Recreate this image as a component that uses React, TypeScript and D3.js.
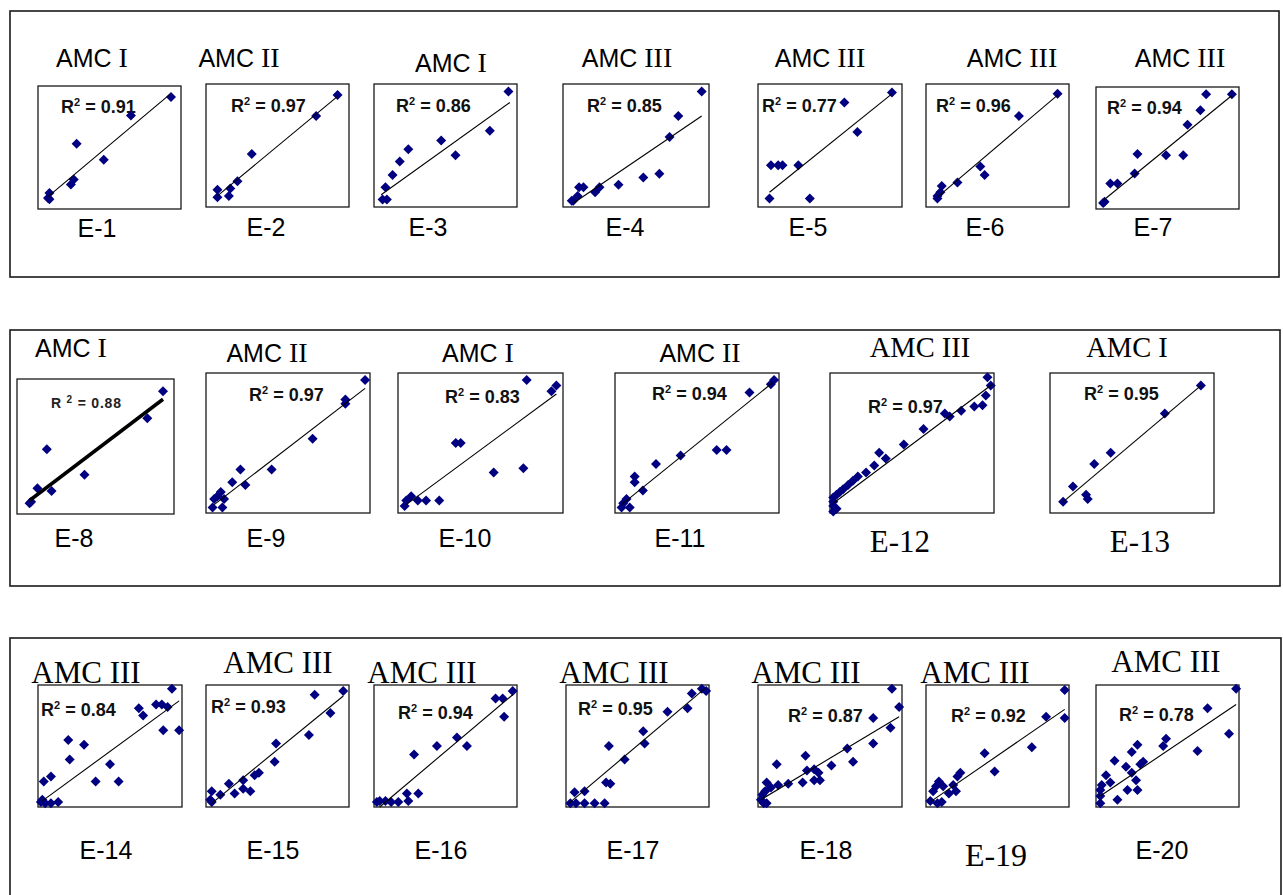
import * as d3 from "d3";

// event names, AMC class and fit quality
const eventNames = ["E-1", "E-2", "E-3", "E-4", "E-5", "E-6", "E-7", "E-8", "E-9", "E-10",
  "E-11", "E-12", "E-13", "E-14", "E-15", "E-16", "E-17", "E-18", "E-19", "E-20"];
const amcClass = ["I", "II", "I", "III", "III", "III", "III", "I", "II", "I",
  "II", "III", "I", "III", "III", "III", "III", "III", "III", "III"];
const r2Values = [0.91, 0.97, 0.86, 0.85, 0.77, 0.96, 0.94, 0.88, 0.97, 0.83,
  0.94, 0.97, 0.95, 0.84, 0.93, 0.94, 0.95, 0.87, 0.92, 0.78];

// observed vs computed runoff, scaled 0-100 per event
const e1 = [[93, 91], [65, 76], [27, 53], [46, 40], [25, 24], [23, 20], [8, 13], [8, 8], [7, 9]];
const e2 = [[92, 91], [77, 74], [32, 43], [22, 21], [17, 15], [8, 14], [16, 9], [8, 8]];
const e3 = [[94, 94], [81, 62], [47, 54], [57, 42], [24, 47], [18, 37], [13, 26], [8, 16], [6, 6], [9, 6]];
const e4 = [[95, 94], [79, 74], [73, 57], [66, 27], [55, 24], [38, 18], [25, 16], [22, 12], [14, 16], [11, 16], [10, 9], [7, 5], [6, 5]];
const e5 = [[93, 93], [60, 85], [69, 61], [28, 34], [17, 34], [14, 34], [9, 34], [8, 7], [36, 7]];
const e6 = [[92, 92], [65, 74], [38, 33], [41, 26], [22, 20], [11, 17], [10, 12], [8, 7], [8, 9]];
const e7 = [[95, 94], [77, 94], [73, 81], [64, 69], [49, 44], [61, 44], [29, 45], [27, 29], [15, 21], [10, 21], [6, 6], [5, 5]];
const e8 = [[93, 91], [83, 71], [19, 48], [43, 29], [22, 17], [13, 19], [9, 9], [8, 8]];
const e9 = [[97, 95], [85, 81], [85, 78], [65, 53], [40, 31], [21, 31], [24, 20], [16, 22], [9, 15], [7, 12], [5, 10], [11, 10], [10, 4], [4, 4]];
const e10 = [[78, 95], [96, 91], [93, 87], [38, 50], [35, 50], [76, 32], [58, 29], [25, 9], [17, 9], [12, 9], [8, 12], [5, 9], [4, 5]];
const e11 = [[97, 95], [95, 92], [82, 86], [68, 45], [62, 45], [40, 41], [25, 35], [12, 26], [12, 22], [17, 16], [7, 10], [5, 7], [4, 4], [9, 4]];
const e12 = [[96, 97], [98, 91], [95, 84], [93, 77], [88, 76], [80, 73], [73, 69], [70, 71], [57, 60], [45, 49], [34, 39], [30, 43],
  [27, 34], [22, 29], [17, 26], [14, 23], [11, 20], [8, 17], [6, 15], [4, 13], [2, 11], [2, 8], [2, 5], [4, 3], [2, 1]];
const e13 = [[92, 91], [70, 71], [37, 43], [27, 35], [14, 19], [22, 13], [23, 10], [8, 8]];
const e14 = [[93, 97], [82, 84], [86, 84], [90, 82], [70, 81], [73, 75], [87, 63], [98, 63], [21, 55], [32, 51], [22, 39],
  [50, 35], [40, 21], [56, 21], [9, 25], [4, 21], [3, 6], [9, 3], [14, 4], [5, 3], [2, 4]];
const e15 = [[96, 95], [76, 92], [87, 77], [72, 59], [49, 52], [48, 37], [37, 28], [34, 26], [26, 22], [16, 19], [20, 11],
  [26, 15], [31, 13], [10, 10], [4, 13], [3, 6], [4, 4]];
const e16 = [[97, 95], [90, 89], [85, 89], [91, 74], [58, 57], [65, 50], [44, 50], [28, 43], [31, 11], [23, 11], [24, 5],
  [17, 4], [12, 4], [8, 5], [4, 5], [2, 4]];
const e17 = [[95, 97], [98, 95], [88, 93], [85, 81], [71, 78], [54, 62], [55, 52], [41, 39], [30, 50], [28, 20], [31, 19],
  [13, 13], [6, 12], [27, 3], [20, 3], [13, 3], [7, 3], [3, 3]];
const e18 = [[93, 97], [98, 82], [80, 73], [92, 65], [80, 52], [62, 48], [66, 37], [51, 34], [33, 42], [13, 35], [34, 30],
  [39, 31], [42, 28], [39, 22], [43, 22], [31, 20], [21, 19], [14, 18], [6, 20], [9, 16], [5, 13], [3, 10], [2, 6], [4, 3], [6, 3]];
const e19 = [[97, 96], [97, 73], [84, 74], [74, 49], [41, 44], [48, 29], [24, 28], [22, 25], [19, 18], [21, 13], [16, 11],
  [12, 17], [9, 21], [7, 17], [5, 13], [11, 4], [8, 3], [3, 5]];
const e20 = [[98, 97], [78, 81], [93, 60], [49, 56], [47, 50], [71, 46], [29, 51], [25, 45], [13, 38], [33, 37], [31, 35],
  [21, 33], [25, 28], [28, 22], [29, 14], [22, 14], [15, 6], [7, 26], [10, 20], [4, 18], [3, 14], [3, 9], [3, 3]];

const eventPoints = [e1, e2, e3, e4, e5, e6, e7, e8, e9, e10, e11, e12, e13, e14, e15, e16, e17, e18, e19, e20];

// trend line end points [x0, y0, x1, y1]
const trendLines = [
  [7, 10, 92, 93], [8, 9, 92, 90], [5, 10, 95, 85], [7, 3, 95, 74], [8, 12, 93, 92],
  [8, 8, 92, 91], [5, 7, 95, 93], [8, 10, 93, 85], [5, 6, 97, 89], [5, 6, 96, 85],
  [4, 6, 96, 93], [2, 7, 99, 92], [8, 8, 92, 91], [3, 5, 98, 87], [4, 3, 96, 91],
  [4, 0, 97, 92], [2, 3, 97, 97], [2, 6, 98, 74], [4, 5, 97, 80], [3, 9, 98, 84],
];

// layout: plot box, title, event label, R² label
const layout = [
  { x: 38, y: 86, w: 143, h: 123, tx: 92, ty: 67, tf: "mixed", lx: 97, ly: 237, lf: "sans", rx: 61, ry: 113 },
  { x: 206, y: 84, w: 143, h: 123, tx: 239, ty: 67, tf: "mixed", lx: 266, ly: 236, lf: "sans", rx: 231, ry: 112 },
  { x: 374, y: 84, w: 143, h: 123, tx: 451, ty: 72, tf: "mixed", lx: 428, ly: 236, lf: "sans", rx: 396, ry: 112 },
  { x: 563, y: 84, w: 146, h: 123, tx: 627, ty: 67, tf: "mixed", lx: 625, ly: 236, lf: "sans", rx: 587, ry: 112 },
  { x: 758, y: 84, w: 144, h: 123, tx: 820, ty: 67, tf: "mixed", lx: 808, ly: 236, lf: "sans", rx: 762, ry: 112 },
  { x: 926, y: 84, w: 143, h: 123, tx: 1012, ty: 67, tf: "mixed", lx: 985, ly: 236, lf: "sans", rx: 936, ry: 112 },
  { x: 1096, y: 87, w: 143, h: 122, tx: 1180, ty: 67, tf: "mixed", lx: 1153, ly: 236, lf: "sans", rx: 1107, ry: 114 },
  { x: 17, y: 379, w: 157, h: 135, tx: 71, ty: 357, tf: "mixed", lx: 74, ly: 547, lf: "sans", rx: 51, ry: 408 },
  { x: 206, y: 373, w: 164, h: 140, tx: 267, ty: 362, tf: "mixed", lx: 266, ly: 547, lf: "sans", rx: 249, ry: 401 },
  { x: 398, y: 373, w: 165, h: 140, tx: 478, ty: 362, tf: "mixed", lx: 465, ly: 547, lf: "sans", rx: 445, ry: 403 },
  { x: 615, y: 373, w: 164, h: 140, tx: 700, ty: 362, tf: "mixed", lx: 680, ly: 547, lf: "sans", rx: 652, ry: 400 },
  { x: 830, y: 373, w: 164, h: 140, tx: 920, ty: 357, tf: "serif", lx: 900, ly: 552, lf: "serif", rx: 868, ry: 413 },
  { x: 1050, y: 373, w: 164, h: 140, tx: 1127, ty: 357, tf: "serif", lx: 1140, ly: 552, lf: "serif", rx: 1084, ry: 400 },
  { x: 38, y: 685, w: 144, h: 122, tx: 86, ty: 683, tf: "serif", lx: 106, ly: 859, lf: "sans", rx: 41, ry: 716 },
  { x: 206, y: 685, w: 143, h: 122, tx: 278, ty: 673, tf: "serif", lx: 273, ly: 859, lf: "sans", rx: 211, ry: 713 },
  { x: 374, y: 685, w: 143, h: 122, tx: 422, ty: 683, tf: "serif", lx: 441, ly: 859, lf: "sans", rx: 398, ry: 719 },
  { x: 566, y: 685, w: 143, h: 122, tx: 614, ty: 683, tf: "serif", lx: 633, ly: 859, lf: "sans", rx: 578, ry: 715 },
  { x: 758, y: 685, w: 144, h: 122, tx: 806, ty: 683, tf: "serif", lx: 826, ly: 859, lf: "sans", rx: 788, ry: 722 },
  { x: 926, y: 685, w: 143, h: 122, tx: 975, ty: 683, tf: "serif", lx: 996, ly: 866, lf: "serif", rx: 951, ry: 722 },
  { x: 1096, y: 685, w: 143, h: 122, tx: 1166, ty: 672, tf: "serif", lx: 1162, ly: 859, lf: "sans", rx: 1119, ry: 721 },
];

const groupBoxes = [
  { x: 10, y: 11, w: 1269, h: 266 },
  { x: 10, y: 330, w: 1270, h: 256 },
  { x: 10, y: 638, w: 1271, h: 280 },
];

const SANS = "'Liberation Sans', Arial, sans-serif";
const SERIF = "'Liberation Serif', 'Times New Roman', serif";
const NAVY = "#000080";

const diamond = d3.symbol().type(d3.symbolSquare).size(50)();

function Panel({ i }: { i: number }) {
  const l = layout[i];
  const xScale = d3.scaleLinear().domain([0, 100]).range([l.x, l.x + l.w]);
  const yScale = d3.scaleLinear().domain([0, 100]).range([l.y + l.h, l.y]);
  const [x0, y0, x1, y1] = trendLines[i];
  const big = l.tf === "serif" && l.y > 600;
  const isE8 = i === 7;

  return (
    <g>
      <rect x={l.x} y={l.y} width={l.w} height={l.h} fill="white" stroke="#1a1a1a" strokeWidth={1.3} />

      {l.tf === "mixed" ? (
        <text x={l.tx} y={l.ty} textAnchor="middle" fill="#000">
          <tspan fontFamily={SANS} fontSize={25}>AMC </tspan>
          <tspan fontFamily={SERIF} fontSize={28}>{amcClass[i]}</tspan>
        </text>
      ) : (
        <text x={l.tx} y={l.ty} textAnchor="middle" fontFamily={SERIF} fontSize={big ? 31 : 28.5} fill="#000">
          AMC {amcClass[i]}
        </text>
      )}

      <text
        x={l.lx}
        y={l.ly}
        textAnchor="middle"
        fontFamily={l.lf === "serif" ? SERIF : SANS}
        fontSize={l.lf === "serif" ? (i === 18 ? 32 : 31) : 25}
        fill="#000"
      >
        {eventNames[i]}
      </text>

      {isE8 ? (
        <text x={l.rx} y={l.ry} fontFamily={SANS} fontWeight="bold" fontSize={14} letterSpacing={0.8} fill="#222">
          R <tspan fontSize={10} dy={-5}>2</tspan>
          <tspan dy={5}> = {r2Values[i].toFixed(2)}</tspan>
        </text>
      ) : (
        <text x={l.rx} y={l.ry} fontFamily={SANS} fontWeight="bold" fontSize={18} fill="#111">
          R<tspan fontSize={11} dy={-7}>2</tspan>
          <tspan dy={7}> = {r2Values[i].toFixed(2)}</tspan>
        </text>
      )}

      {eventPoints[i].map((d, k) => (
        <path
          key={k}
          d={diamond!}
          transform={`translate(${xScale(d[0])},${yScale(d[1])}) rotate(45)`}
          fill={NAVY}
        />
      ))}

      <line
        x1={xScale(x0)}
        y1={yScale(y0)}
        x2={xScale(x1)}
        y2={yScale(y1)}
        stroke="#000"
        strokeWidth={isE8 ? 3.5 : 1.1}
      />
    </g>
  );
}

export default function App() {
  return (
    <svg
      width={1283}
      height={895}
      style={{ position: "absolute", left: 0, top: 0, background: "white" }}
    >
      <rect x={0} y={0} width={1283} height={895} fill="white" />
      {groupBoxes.map((b, k) => (
        <rect key={k} x={b.x} y={b.y} width={b.w} height={b.h} fill="none" stroke="#1a1a1a" strokeWidth={1.6} />
      ))}
      {layout.map((_, i) => (
        <Panel key={i} i={i} />
      ))}
    </svg>
  );
}
